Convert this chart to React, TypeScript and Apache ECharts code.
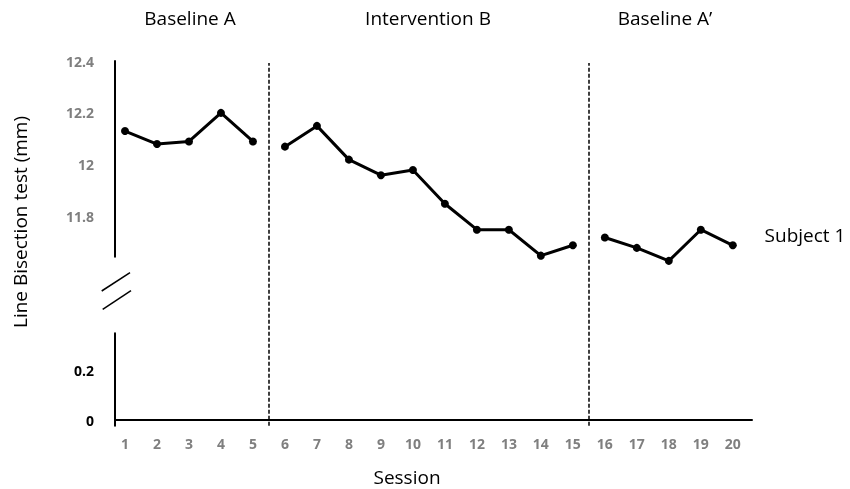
import React, { useEffect, useRef } from "react";
import * as echarts from "echarts";

const sessions = [1, 2, 3, 4, 5, 6, 7, 8, 9, 10, 11, 12, 13, 14, 15, 16, 17, 18, 19, 20];
const baselineA = [12.13, 12.08, 12.09, 12.2, 12.09];
const interventionB = [12.07, 12.15, 12.02, 11.96, 11.98, 11.85, 11.75, 11.75, 11.65, 11.69];
const baselineA2 = [11.72, 11.68, 11.63, 11.75, 11.69];
const upperTicks = [11.8, 12, 12.2, 12.4];
const lowerTicks = [0, 0.2];
const phaseBoundaries = [5.5, 15.5];
const phaseTitles = ["Baseline A", "Intervention B", "Baseline A\u2019"];

const FONT = "'Open Sans', sans-serif";

export default function App() {
  const ref = useRef<HTMLDivElement>(null);
  useEffect(() => {
    if (!ref.current) return;
    const chart = echarts.init(ref.current, null, { renderer: "svg" });
    const pairs = (vals: number[], start: number) => vals.map((v, i) => [sessions[start + i], v]);
    const lineSeries = (vals: number[], start: number) => ({
      type: "line",
      xAxisIndex: 0,
      yAxisIndex: 0,
      data: pairs(vals, start),
      symbol: "circle",
      symbolSize: 8,
      clip: false,
      itemStyle: { color: "#000" },
      lineStyle: { color: "#000", width: 3 },
    });
    const xMin = 0.6875;
    const xMax = 20.6;
    const axisLabelGray = { color: "#7f7f7f", fontWeight: "bold", fontSize: 14, fontFamily: FONT };
    const bigText = (text: string, x: number, y: number) => ({
      type: "text",
      x,
      y,
      style: { text, font: `19px ${FONT}`, fill: "#000", align: "center", verticalAlign: "middle" },
    });
    chart.setOption({
      animation: false,
      grid: [
        { left: 115, right: 98, top: 61, bottom: 232.3 },
        { left: 115, right: 98, top: 333.3, bottom: 63.3 },
        { left: 115, right: 98, top: 63, bottom: 63.3 },
      ],
      xAxis: [
        { type: "value", gridIndex: 0, min: xMin, max: xMax, show: false },
        {
          type: "value",
          gridIndex: 1,
          min: xMin,
          max: xMax,
          splitLine: { show: false },
          axisTick: { show: false },
          axisLine: { show: true, lineStyle: { color: "#000", width: 2 } },
          axisLabel: { ...axisLabelGray, customValues: sessions, margin: 11 },
        },
        { type: "value", gridIndex: 2, min: xMin, max: xMax, show: false },
      ],
      yAxis: [
        {
          type: "value",
          gridIndex: 0,
          min: 11.646,
          max: 12.4,
          splitLine: { show: false },
          axisTick: { show: false },
          axisLine: { show: true, lineStyle: { color: "#000", width: 2 } },
          axisLabel: {
            ...axisLabelGray,
            customValues: upperTicks,
            margin: 21,
            formatter: (v: number) => String(Math.round(v * 10) / 10),
          },
        },
        {
          type: "value",
          gridIndex: 1,
          min: -0.022,
          max: 0.35,
          splitLine: { show: false },
          axisTick: { show: false },
          axisLine: { show: true, lineStyle: { color: "#000", width: 2 } },
          axisLabel: {
            color: "#000",
            fontWeight: "bold",
            fontSize: 14,
            fontFamily: FONT,
            customValues: lowerTicks,
            margin: 21,
            formatter: (v: number) => String(Math.round(v * 10) / 10),
          },
        },
        { type: "value", gridIndex: 2, min: 0, max: 1, show: false },
      ],
      series: [
        lineSeries(baselineA, 0),
        lineSeries(interventionB, 5),
        lineSeries(baselineA2, 15),
        {
          type: "line",
          xAxisIndex: 2,
          yAxisIndex: 2,
          data: [],
          markLine: {
            silent: true,
            symbol: "none",
            label: { show: false },
            lineStyle: { color: "#000", type: [4, 2], width: 1.5 },
            data: phaseBoundaries.map((b) => ({ xAxis: b })),
          },
        },
      ],
      graphic: [
        bigText(phaseTitles[0], 190, 18),
        bigText(phaseTitles[1], 428, 18),
        bigText(phaseTitles[2], 665, 18),
        bigText("Session", 407, 477),
        bigText("Subject 1", 805, 235),
        {
          type: "text",
          x: 20,
          y: 222,
          rotation: Math.PI / 2,
          style: { text: "Line Bisection test (mm)", font: `19px ${FONT}`, fill: "#000", align: "center", verticalAlign: "middle" },
        },
        { type: "line", shape: { x1: 101.7, y1: 291, x2: 130, y2: 272.7 }, style: { stroke: "#000", lineWidth: 1.5 } },
        { type: "line", shape: { x1: 102.7, y1: 309.3, x2: 131, y2: 290.7 }, style: { stroke: "#000", lineWidth: 1.5 } },
      ],
    });
    return () => chart.dispose();
  }, []);
  return <div ref={ref} style={{ position: "fixed", left: 0, top: 0, width: 850, height: 489 }} />;
}
